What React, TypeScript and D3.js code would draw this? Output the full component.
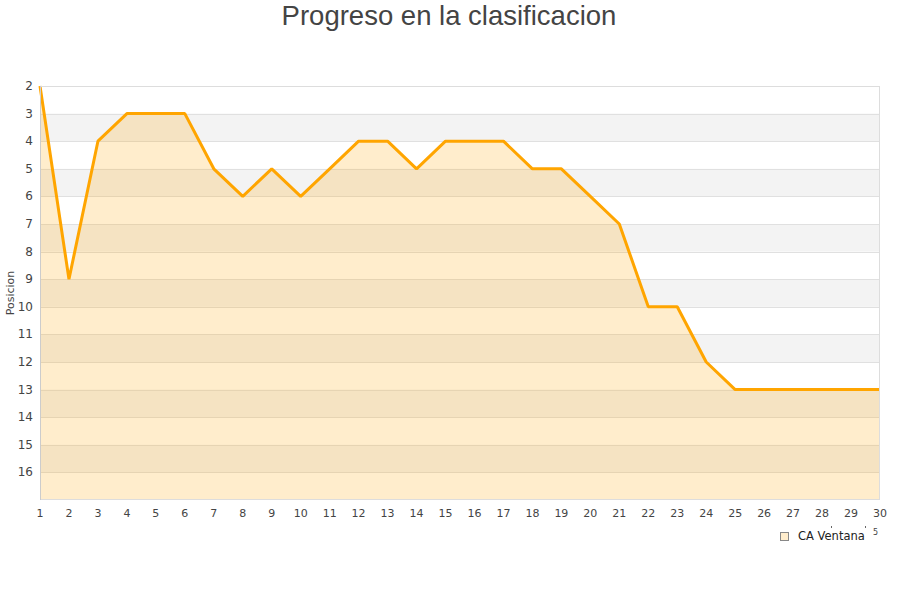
import React from "react";
import * as d3 from "d3";

const rounds: number[] = Array.from({ length: 30 }, (_, i) => i + 1);
const positions: number[] = [2, 9, 4, 3, 3, 3, 5, 6, 5, 6, 5, 4, 4, 5, 4, 4, 4, 5, 5, 6, 7, 10, 10, 12, 13, 13, 13, 13, 13, 13];
const yTicks: number[] = [2, 3, 4, 5, 6, 7, 8, 9, 10, 11, 12, 13, 14, 15, 16];
const bandStarts: number[] = [3, 5, 7, 9, 11, 13, 15];
const seriesName = "CA Ventana";
const title = "Progreso en la clasificacion";
const yTitle = "Posicion";

export default function App() {
  const W = 900, H = 600;
  const left = 40, right = 880, top = 86, bottom = 500;
  const x = d3.scaleLinear().domain([1, 30]).range([left, right]);
  const y = d3.scaleLinear().domain([2, 17]).range([top, bottom]);
  const data = rounds.map((r, i) => ({ r, p: positions[i] }));
  const line = d3.line<{ r: number; p: number }>().x(d => x(d.r)).y(d => y(d.p));
  const area = d3.area<{ r: number; p: number }>().x(d => x(d.r)).y0(y(17)).y1(d => y(d.p));
  const tickFont = "DejaVu Sans, Verdana, sans-serif";
  return (
    <svg width={W} height={H} style={{ position: "absolute", left: 0, top: 0, background: "#fff" }}>
      <text x={449} y={25} textAnchor="middle" fontFamily="Liberation Sans, Arial, sans-serif" fontSize={27.5} fill="#444">{title}</text>
      {bandStarts.map(b => (
        <rect key={b} x={left} y={y(b)} width={right - left} height={y(b + 1) - y(b)} fill="#f3f3f3" />
      ))}
      {yTicks.map(t => (
        <line key={t} x1={left} x2={right} y1={Math.round(y(t)) + 0.5} y2={Math.round(y(t)) + 0.5} stroke="#e0e0e0" strokeWidth={1} />
      ))}
      <path d={area(data) || ""} fill="rgba(255,165,0,0.2)" />
      <path d={line(data) || ""} fill="none" stroke="#ffa500" strokeWidth={3} strokeLinejoin="bevel" />
      <rect x={left + 0.5} y={top + 0.5} width={right - left - 1} height={bottom - top - 1} fill="none" stroke="#dddddd" strokeWidth={1} />
      <line x1={left + 0.5} x2={left + 0.5} y1={top} y2={bottom} stroke="#cccccc" />
      {yTicks.map(t => (
        <text key={t} x={33} y={y(t) + 4} textAnchor="end" fontFamily={tickFont} fontSize={12} fill="#444">{t}</text>
      ))}
      {rounds.map(r => (
        <text key={r} x={x(r)} y={517} textAnchor="middle" fontFamily={tickFont} fontSize={11} fill="#444">{r}</text>
      ))}
      <text transform={`translate(14,293) rotate(-90)`} textAnchor="middle" fontFamily={tickFont} fontSize={11} fill="#444">{yTitle}</text>
      <rect x={780.5} y={532.5} width={8} height={8} fill="rgba(255,165,0,0.2)" stroke="#888" strokeWidth={1} />
      <text x={798} y={540} fontFamily={tickFont} fontSize={11.5} fill="#222">{seriesName}</text>
      <text x={873} y={535} fontFamily={tickFont} fontSize={8} fill="#444">5</text>
      <rect x={831} y={526} width={1} height={2} fill="#666" />
      <rect x={865} y={526} width={1} height={2} fill="#666" />
    </svg>
  );
}
